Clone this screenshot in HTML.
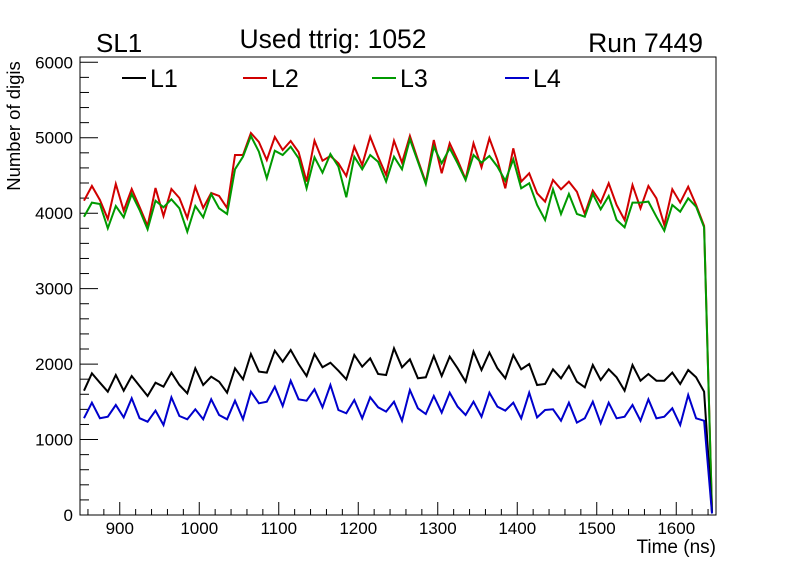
<!DOCTYPE html>
<html><head><meta charset="utf-8"><style>
html,body{margin:0;padding:0;background:#fff;}
svg{display:block;font-family:"Liberation Sans",sans-serif;}
</style></head><body>
<svg id="chart" width="796" height="572" viewBox="0 0 796 572" xmlns="http://www.w3.org/2000/svg">
<rect x="0" y="0" width="796" height="572" fill="#fff"/>
<g id="axes"></g>
<g id="series"></g>
<rect x="80" y="57" width="636" height="458" fill="none" stroke="#000" stroke-width="1"/>
<text x="96" y="52" font-size="26">SL1</text>
<text x="333" y="48" font-size="26.5" text-anchor="middle">Used ttrig: 1052</text>
<text x="703" y="52" font-size="26.5" text-anchor="end">Run 7449</text>
<text transform="translate(20,126) rotate(-90)" font-size="18.5" text-anchor="middle">Number of digis</text>
<text x="716" y="553" font-size="19" text-anchor="end">Time (ns)</text>
<g id="legend"></g>
</svg>
<script>
const times = [];
for (let i = 0; i < 80; i++) times.push(855 + 10 * i);
const l1 = [1647,1878,1754,1634,1856,1647,1842,1710,1577,1754,1701,1887,1723,1613,1944,1723,1833,1767,1621,1944,1798,2134,1900,1887,2178,2032,2187,2001,
1842,2134,1957,2019,1913,1798,2121,1966,2077,1869,1856,2209,1957,2064,1812,1825,2107,1842,2099,1944,1767,2165,1922,2152,1944,1812,
2121,1931,2001,1723,1736,1931,1812,1975,1767,1692,1988,1789,1931,1825,1647,1988,1780,1869,1780,1780,1887,1736,1922,1825,1634,30];
const l2 = [4166,4360,4175,3923,4387,4033,4321,4082,3830,4334,3963,4321,4201,3936,4347,4069,4267,4228,4069,4771,4771,5063,4944,4705,5010,4838,4957,4811,
4418,4961,4696,4758,4661,4493,4881,4639,5014,4749,4506,4961,4670,5023,4705,4404,4970,4529,4926,4705,4449,4926,4608,4993,4705,4330,
4860,4418,4529,4264,4153,4440,4317,4418,4285,3989,4299,4140,4396,4109,3910,4374,4065,4360,4197,3844,4317,4140,4351,4109,3830,60];
const l3 = [3954,4140,4122,3800,4095,3946,4254,4042,3787,4166,4078,4184,4065,3755,4095,3946,4254,4065,3989,4582,4749,5023,4815,4462,4828,4771,4881,4728,
4330,4741,4537,4785,4617,4211,4749,4582,4771,4683,4418,4749,4582,4979,4683,4387,4881,4661,4860,4661,4440,4771,4670,4758,4617,4431,
4714,4330,4396,4109,3910,4317,3989,4254,3989,3954,4254,4052,4228,3910,3813,4140,4140,4153,3954,3768,4109,4020,4197,4086,3813,40];
const l4 = [1283,1489,1283,1303,1458,1294,1546,1283,1237,1383,1193,1560,1312,1268,1401,1268,1533,1325,1268,1515,1268,1634,1480,1502,1701,1445,1780,1533,
1515,1666,1427,1723,1392,1348,1524,1281,1560,1427,1370,1502,1250,1657,1414,1339,1577,1357,1621,1436,1325,1502,1303,1621,1436,1383,
1489,1281,1621,1294,1392,1401,1250,1489,1224,1281,1502,1215,1489,1281,1303,1458,1250,1533,1281,1303,1414,1193,1590,1281,1250,20];
const seriesNames = ["L1","L2","L3","L4"];
const yTicks = [0,1000,2000,3000,4000,5000,6000];
const xTicks = [900,1000,1100,1200,1300,1400,1500,1600];

const X0=80,X1=716,Y0=515,Y1=57,XMIN=850,XMAX=1650,YMIN=0,YMAX=6070;
const xs=v=>X0+(v-XMIN)/(XMAX-XMIN)*(X1-X0);
const ys=v=>Y0-(v-YMIN)/(YMAX-YMIN)*(Y0-Y1);
const NS="http://www.w3.org/2000/svg";
function mk(tag,attrs,parent){const e=document.createElementNS(NS,tag);for(const k in attrs)e.setAttribute(k,attrs[k]);parent.appendChild(e);return e;}
const axes=document.getElementById('axes');
for(let v=0;v<=6000;v+=200){
  const major=v%1000===0;
  const t=mk('line',{x1:X0,x2:X0+(major?18:9),y1:ys(v),y2:ys(v),stroke:'#000','stroke-width':1},axes);
  
  
}
yTicks.forEach(v=>{
  const t=mk('text',{x:73,y:ys(v)+6,'font-size':17,'text-anchor':'end'},axes);
  t.textContent=v;
  
  
});
for(let v=860;v<=1640;v+=20){
  const major=v%100===0;
  const t=mk('line',{x1:xs(v),x2:xs(v),y1:Y0,y2:Y0-(major?13:6),stroke:'#000','stroke-width':1},axes);
  
  
}
xTicks.forEach(v=>{
  const t=mk('text',{x:xs(v),y:534,'font-size':17,'text-anchor':'middle'},axes);
  t.textContent=v;
  
  
});
const colors=['#000000','#d00000','#009900','#0000cc'];
const data=[l1,l2,l3,l4];
const sg=document.getElementById('series');
[1,2,0,3].forEach(i=>{
  const pts=data[i].map((v,j)=>xs(times[j]).toFixed(1)+','+ys(v).toFixed(1)).join(' ');
  const p=mk('polyline',{points:pts,fill:'none',stroke:colors[i],'stroke-width':2,'stroke-linejoin':'miter'},sg);
  
  
});
const lg=document.getElementById('legend');
const lx=[122,243,372,505];
seriesNames.forEach((n,i)=>{
  const g=mk('g',{},lg);
  
  
  mk('line',{x1:lx[i],x2:lx[i]+24,y1:78,y2:78,stroke:colors[i],'stroke-width':2},g);
  const t=mk('text',{x:lx[i]+28,y:87,'font-size':25},g);
  t.textContent=n;
});
</script>
</body></html>
